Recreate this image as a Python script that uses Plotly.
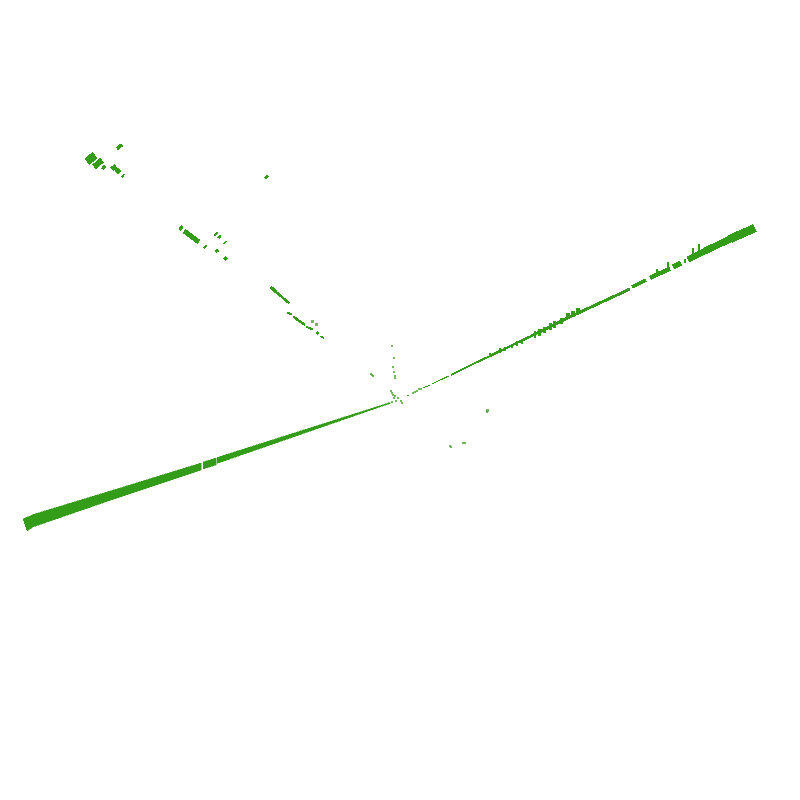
import plotly.graph_objects as go

GREEN = "#339c18"

# Left band: outline pieces, (x, y) around each piece
band_a_x = [23, 33, 120, 201, 201, 120, 33, 27]
band_a_y = [519, 514.5, 488, 463, 470, 497, 527, 531]
band_b_x = [203, 216, 216, 203]
band_b_y = [462, 458, 465, 469]
band_c_x = [217, 300, 350, 390, 390, 350, 300, 217]
band_c_y = [457.5, 431, 415.5, 402.5, 403.5, 417.5, 434.5, 463.5]

# Strokes along the right band
right_x0 = [407, 423, 432, 440, 451, 455, 473, 490, 530, 575, 632, 650, 673, 688, 705, 730]
right_y0 = [396, 388, 384, 380, 375, 373, 364, 356, 336.5, 314.5, 287, 278, 267, 259.5, 251, 239]
right_x1 = [409, 430, 440, 449, 455, 473, 490, 530, 575, 630, 646, 670, 681, 705, 730, 755]
right_y1 = [395, 385, 380, 376, 373, 364, 356, 336.5, 314.5, 289, 280, 268.5, 263, 251, 239, 228]
right_w = [1, 1, 1.2, 1.2, 1.5, 2, 2, 2.5, 3, 3, 4, 4.5, 5, 6, 7, 8.5]

# Bumps on top of the right band
bump_x = [490, 500, 505, 512, 517, 522, 535, 539, 544, 550, 554, 561, 568, 573, 578, 657, 668, 685, 693, 699]
bump_top = [353, 348, 347, 344.5, 341, 338.5, 331, 329, 327, 323, 321, 317.5, 313, 311, 308, 269, 262, 259, 248, 244]
bump_bot = [357, 353, 351, 348, 346, 344, 338, 336, 333, 330, 328, 324, 319, 317, 314, 275, 272, 263, 256, 254]
bump_w = [1.5, 2, 2, 2.5, 2.5, 2, 2, 3, 3, 3, 3, 3, 3.5, 3.5, 3.5, 1.5, 1.5, 2, 2.5, 2]

# Isolated strokes in the upper left
iso_x0 = [87, 94, 102.3, 111.7, 116, 121.7, 116.7, 264.7,
          179.3, 184, 204, 214.3, 218.3, 223.3, 215.3, 224.3,
          270.7, 276, 287.3, 293.3, 306, 316.7, 320.7]
iso_y0 = [162, 167, 169.3, 169.3, 172.7, 177.3, 148.7, 178.7,
          229.3, 231, 248.3, 235.3, 238.3, 243.7, 252, 259.7,
          287.3, 292, 312.3, 316.7, 326.7, 331.7, 336]
iso_x1 = [95, 102, 105.3, 116, 120, 124.7, 122, 267.7,
          182.7, 199, 206.7, 217.7, 220.7, 226.7, 218.3, 226.7,
          276, 289.3, 291.7, 305, 312.7, 318.3, 324]
iso_y1 = [155, 160, 166, 166, 169.3, 173.7, 144.7, 175.7,
          226.7, 242, 245.7, 232.7, 235.3, 241.3, 250, 257.3,
          292, 303.3, 314.7, 325, 329.3, 334, 338.7]
iso_w = [8, 6, 3.5, 5, 5, 2, 3.5, 2.5,
         3.5, 5, 2, 2.5, 2.5, 1.5, 3, 3,
         3.5, 2.5, 2, 2.5, 2, 2.5, 1.5]

# Small specks
dot_x = [392.3, 394.3, 393.3, 394.3, 395.3, 395.3, 370.7, 372, 373.3, 390.7, 392, 393.3, 395,
         394, 398.3, 396, 392.3, 400.7, 401.5, 413, 415.3, 417.3, 419.3, 421.3,
         487.7, 487, 449.7, 450.5, 463, 465, 312.7, 316.7]
dot_y = [346.3, 358.3, 367.3, 372.3, 376, 378, 374.3, 375, 376.3, 391.3, 393.3, 394.7, 396.3,
         398.3, 397.7, 400.7, 402.3, 401.3, 402.5, 393.3, 392, 391, 389, 389,
         410.5, 412, 445.7, 447, 443.3, 443.3, 321, 324.7]
dot_size = [2, 2, 2, 2, 2, 2, 2, 2, 2, 2, 2, 2, 2,
            2, 2, 2, 2, 2, 2, 2, 2, 2, 2, 2,
            3, 2, 2, 2, 2, 2, 3, 3]

fig = go.Figure()

for xs, ys in [(band_a_x, band_a_y), (band_b_x, band_b_y), (band_c_x, band_c_y)]:
    fig.add_trace(go.Scatter(x=xs, y=ys, mode="lines", fill="toself", fillcolor=GREEN,
                             line=dict(color=GREEN, width=0.5), showlegend=False, hoverinfo="skip"))

for x0, y0, x1, y1, w in zip(right_x0, right_y0, right_x1, right_y1, right_w):
    fig.add_trace(go.Scatter(x=[x0, x1], y=[y0, y1], mode="lines",
                             line=dict(color=GREEN, width=w), showlegend=False, hoverinfo="skip"))

for x, t, b, w in zip(bump_x, bump_top, bump_bot, bump_w):
    fig.add_trace(go.Scatter(x=[x, x], y=[t, b], mode="lines",
                             line=dict(color=GREEN, width=w), showlegend=False, hoverinfo="skip"))

for x0, y0, x1, y1, w in zip(iso_x0, iso_y0, iso_x1, iso_y1, iso_w):
    fig.add_trace(go.Scatter(x=[x0, x1], y=[y0, y1], mode="lines",
                             line=dict(color=GREEN, width=w), showlegend=False, hoverinfo="skip"))

fig.add_trace(go.Scatter(x=dot_x, y=dot_y, mode="markers",
                         marker=dict(color=GREEN, size=dot_size, symbol="square", line=dict(width=0)),
                         showlegend=False, hoverinfo="skip"))

fig.update_layout(
    width=800, height=800, margin=dict(l=0, r=0, t=0, b=0),
    paper_bgcolor="white", plot_bgcolor="white",
    xaxis=dict(range=[0, 800], visible=False),
    yaxis=dict(range=[800, 0], visible=False),
)
fig.write_html("out.html", config={"displayModeBar": False},
               post_script="document.querySelectorAll('.scatterlayer path').forEach(function(p){p.style.shapeRendering='crispEdges';});"
                           "document.body.style.margin='0';")
